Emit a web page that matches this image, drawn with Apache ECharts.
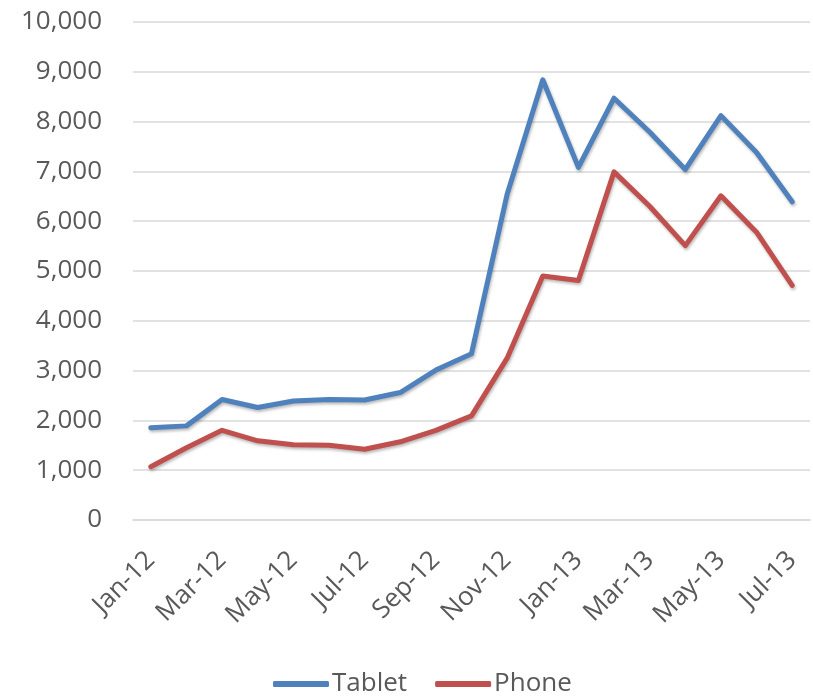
<!DOCTYPE html>
<html>
<head>
<meta charset="utf-8">
<script src="https://cdn.jsdelivr.net/npm/echarts@6/dist/echarts.min.js"></script>
<style>
  html, body { margin: 0; padding: 0; background: #fff; }
  #chart { width: 813px; height: 700px; }
</style>
</head>
<body>
<div id="chart"></div>
<script>
// Monthly categories, Jan-12 through Jul-13
const months = ['Jan-12', 'Feb-12', 'Mar-12', 'Apr-12', 'May-12', 'Jun-12', 'Jul-12', 'Aug-12', 'Sep-12', 'Oct-12', 'Nov-12', 'Dec-12',
                'Jan-13', 'Feb-13', 'Mar-13', 'Apr-13', 'May-13', 'Jun-13', 'Jul-13'];

// Series values
const tablet = [1850, 1890, 2420, 2260, 2390, 2420, 2410, 2560, 3010, 3340, 6540, 8840,
                7080, 8470, 7790, 7040, 8120, 7380, 6390];
const phone = [1070, 1450, 1800, 1590, 1510, 1500, 1420, 1570, 1800, 2090, 3250, 4900,
               4810, 6990, 6300, 5510, 6510, 5780, 4710];

// Value axis range
const yMin = 0;
const yMax = 10000;
const yStep = 1000;

const FONT = 'Open Sans';
const TEXT = '#595959';

const chart = echarts.init(document.getElementById('chart'), null, { renderer: 'canvas' });

function lineSeries(name, data, color) {
  return {
    name: name,
    type: 'line',
    data: data,
    symbol: 'none',
    smooth: false,
    color: color,
    lineStyle: {
      color: color,
      width: 5,
      cap: 'round',
      join: 'round',
      shadowColor: 'rgba(0,0,0,0.28)',
      shadowBlur: 3,
      shadowOffsetX: 1,
      shadowOffsetY: 2
    },
    emphasis: { disabled: true }
  };
}

chart.setOption({
  animation: false,
  backgroundColor: '#ffffff',
  textStyle: { fontFamily: FONT },
  grid: { left: 133, right: 3, top: 22, bottom: 180, containLabel: false },
  xAxis: {
    type: 'category',
    data: months,
    boundaryGap: true,
    axisLine: { show: true, lineStyle: { color: '#d9d9d9', width: 1.5 } },
    axisTick: { show: false },
    axisLabel: {
      interval: 1,
      rotate: 45,
      margin: 36,
      color: TEXT,
      fontSize: 26,
      fontFamily: FONT
    },
    splitLine: { show: false }
  },
  yAxis: {
    type: 'value',
    min: yMin,
    max: yMax,
    interval: yStep,
    axisLine: { show: false },
    axisTick: { show: false },
    axisLabel: {
      margin: 31,
      color: TEXT,
      fontSize: 26,
      fontFamily: FONT,
      formatter: v => v.toLocaleString('en-US')
    },
    splitLine: { show: true, lineStyle: { color: '#d9d9d9', width: 1.5 } }
  },
  legend: {
    data: ['Tablet', 'Phone'],
    left: 268,
    top: 666,
    icon: 'roundRect',
    itemWidth: 56,
    itemHeight: 6,
    itemGap: 28,
    textStyle: { color: TEXT, fontSize: 26, fontFamily: FONT, padding: [0, 0, 0, -2] }
  },
  series: [
    lineSeries('Tablet', tablet, '#4F81BD'),
    lineSeries('Phone', phone, '#C0504D')
  ]
});
</script>
</body>
</html>
